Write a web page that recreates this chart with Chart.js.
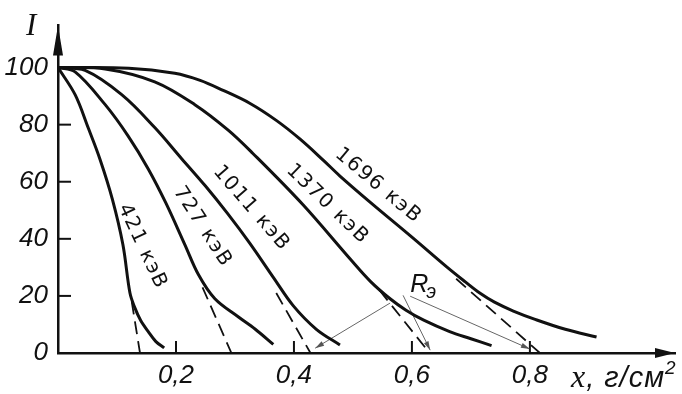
<!DOCTYPE html>
<html>
<head>
<meta charset="utf-8">
<script src="https://cdn.jsdelivr.net/npm/chart.js@4.4.0/dist/chart.umd.min.js"></script>
<style>
  html, body { margin: 0; padding: 0; background: #fff; }
</style>
</head>
<body>
<canvas id="chart" width="682" height="394"></canvas>
<script>
// энергии электронов (подписи кривых)
const energies = ['421 кэВ', '727 кэВ', '1011 кэВ', '1370 кэВ', '1696 кэВ'];

// толщина x, г/см2 и интенсивность I для каждой кривой
const x421 = [0, 0.029, 0.051, 0.071, 0.092, 0.11, 0.122, 0.13, 0.14, 0.153, 0.166, 0.18];
const i421 = [100, 90.5, 79, 68, 54, 38, 21, 16, 11.5, 7.5, 4, 1.8];

const x727 = [0, 0.029, 0.08, 0.119, 0.153, 0.183, 0.215, 0.238, 0.266, 0.306, 0.334, 0.365];
const i727 = [100, 98.5, 87, 76, 64.5, 52.5, 38, 27.5, 19, 12.6, 8.4, 3];

const x1011 = [0, 0.046, 0.108, 0.164, 0.21, 0.25, 0.287, 0.325, 0.365, 0.399, 0.438, 0.478];
const i1011 = [100, 99, 90.5, 79, 68, 58.5, 49, 38.5, 26.5, 16.5, 8.3, 2.8];

const x1370 = [0, 0.08, 0.164, 0.232, 0.289, 0.33, 0.415, 0.495, 0.53, 0.563, 0.59, 0.62, 0.664, 0.7, 0.735];
const i1370 = [100, 99.5, 95, 87, 78, 70, 52, 33, 25, 19, 15, 11.5, 7.5, 5, 2.6];

const x1696 = [0, 0.12, 0.198, 0.241, 0.28, 0.325, 0.37, 0.41, 0.45, 0.478, 0.53, 0.6, 0.66, 0.69, 0.715, 0.74, 0.772, 0.81, 0.86, 0.913];
const i1696 = [100, 99.8, 98, 95.5, 92, 87.5, 81.5, 75, 67.5, 62, 52.7, 40.6, 30, 25, 21, 17.8, 14.7, 11.7, 8.3, 5.6];

// касательные (штрих) - экстраполяция к I = 0
const tangentX = [[0.125, 0.139], [0.245, 0.294], [0.37, 0.428], [0.545, 0.63], [0.675, 0.817]];
const tangentI = [[18, 0], [23, 0], [21, 0], [22, 0], [26, 0]];

// выноски к R_э
const rLineX = [[0.563, 0.436], [0.585, 0.631], [0.597, 0.8]];
const rLineI = [[17.5, 1.7], [20.2, 1], [19.9, 1.4]];

const xTicks = [0.2, 0.4, 0.6, 0.8];
const yTicks = [0, 20, 40, 60, 80, 100];

const curvesX = [x421, x727, x1011, x1370, x1696];
const curvesI = [i421, i727, i1011, i1370, i1696];

// где стоят подписи (в единицах графика) и угол наклона
const labelPlace = [[0.143, 37.3, 65], [0.245, 44.2, 57], [0.328, 50.7, 49], [0.457, 52.1, 44], [0.543, 58.6, 40]];

const INK = '#111';
const SANS = '"Liberation Sans", Arial, sans-serif';
const SERIF = '"Liberation Serif", "DejaVu Serif", serif';
const tickFont = { family: SANS, size: 26, style: 'italic' };

function toPoints(xs, ys) {
    return xs.map((x, k) => ({ x: x, y: ys[k] }));
}

const datasets = [];
curvesX.forEach((xs, k) => {
    datasets.push({
        label: energies[k],
        data: toPoints(xs, curvesI[k]),
        showLine: true,
        borderColor: INK,
        borderWidth: 3,
        pointRadius: 0,
        tension: 0.35
    });
});
tangentX.forEach((xs, k) => {
    datasets.push({
        label: 'tangent',
        data: toPoints(xs, tangentI[k]),
        showLine: true,
        borderColor: INK,
        borderWidth: 1.8,
        borderDash: [13, 7],
        pointRadius: 0
    });
});
const rStart = datasets.length;
rLineX.forEach((xs, k) => {
    datasets.push({
        label: 'R',
        data: toPoints(xs, rLineI[k]),
        showLine: true,
        borderColor: '#666',
        borderWidth: 1,
        pointRadius: 0
    });
});

// засечки внутрь, стрелки осей, подписи
const drawingPlugin = {
    id: 'drawing',
    afterDatasetsDraw(chart) {
        const ctx = chart.ctx;
        const xs = chart.scales.x, ys = chart.scales.y;
        const area = chart.chartArea;
        const x0 = xs.getPixelForValue(0), y0 = ys.getPixelForValue(0);
        ctx.save();
        ctx.strokeStyle = INK;
        ctx.fillStyle = INK;
        ctx.lineWidth = 2;

        // засечки
        xTicks.forEach(v => {
            const p = xs.getPixelForValue(v);
            ctx.beginPath(); ctx.moveTo(p, y0); ctx.lineTo(p, y0 - 12); ctx.stroke();
        });
        yTicks.slice(1).forEach(v => {
            const p = ys.getPixelForValue(v);
            ctx.beginPath(); ctx.moveTo(x0, p); ctx.lineTo(x0 + 13, p); ctx.stroke();
        });

        // стрелки осей
        ctx.beginPath();
        ctx.moveTo(x0, area.top); ctx.lineTo(x0 - 5, area.top + 30); ctx.lineTo(x0 + 5, area.top + 30);
        ctx.closePath(); ctx.fill();
        ctx.beginPath();
        ctx.moveTo(area.right, y0); ctx.lineTo(area.right - 20, y0 - 5); ctx.lineTo(area.right - 20, y0 + 5);
        ctx.closePath(); ctx.fill();

        // стрелки на выносках R
        ctx.fillStyle = '#555';
        for (let k = 0; k < rLineX.length; k++) {
            const pts = chart.getDatasetMeta(rStart + k).data;
            const a = pts[0], b = pts[pts.length - 1];
            const ang = Math.atan2(b.y - a.y, b.x - a.x);
            ctx.save();
            ctx.translate(b.x, b.y); ctx.rotate(ang);
            ctx.beginPath(); ctx.moveTo(0, 0); ctx.lineTo(-9, -2.5); ctx.lineTo(-9, 2.5); ctx.closePath(); ctx.fill();
            ctx.restore();
        }

        // подписи кривых
        ctx.fillStyle = INK;
        ctx.font = '20px "DejaVu Sans", sans-serif';
        ctx.letterSpacing = '1.5px';
        ctx.textAlign = 'center';
        ctx.textBaseline = 'middle';
        labelPlace.forEach((p, k) => {
            ctx.save();
            ctx.translate(xs.getPixelForValue(p[0]), ys.getPixelForValue(p[1]));
            ctx.rotate(p[2] * Math.PI / 180);
            ctx.fillText(energies[k], 0, 0);
            ctx.restore();
        });
        ctx.letterSpacing = '0px';

        // R_э
        ctx.textAlign = 'left';
        ctx.textBaseline = 'alphabetic';
        ctx.font = 'italic 25px ' + SANS;
        const rx = xs.getPixelForValue(0.597), ry = ys.getPixelForValue(21.5);
        ctx.fillText('R', rx, ry);
        ctx.font = 'italic 20px ' + SANS;
        ctx.fillText('э', rx + 16, ry + 6);

        // названия осей
        ctx.font = 'italic 31px ' + SERIF;
        ctx.fillText('I', 26, 35);
        let tx = 571;
        const by = 387;
        ctx.font = 'italic 32px ' + SERIF;
        ctx.fillText('x', tx, by);
        tx += ctx.measureText('x').width + 1;
        ctx.font = 'italic 29px ' + SANS;
        ctx.letterSpacing = '1px';
        ctx.fillText(', г/см', tx, by);
        tx += ctx.measureText(', г/см').width;
        ctx.font = 'italic 19px ' + SANS;
        ctx.fillText('2', tx, by - 13);
        ctx.restore();
    }
};

new Chart(document.getElementById('chart'), {
    type: 'scatter',
    data: { datasets: datasets },
    options: {
        responsive: false,
        animation: false,
        devicePixelRatio: 1,
        layout: { padding: { left: 0, top: 18, right: 7, bottom: 0 } },
        plugins: { legend: { display: false }, tooltip: { enabled: false } },
        scales: {
            x: {
                type: 'linear',
                min: 0,
                max: 1.046,
                afterBuildTicks: s => { s.ticks = xTicks.map(v => ({ value: v })); },
                afterFit: s => { s.height = 41; },
                grid: { display: false, drawTicks: false },
                border: { display: true, color: INK, width: 2.5 },
                ticks: {
                    color: INK,
                    font: tickFont,
                    padding: 7,
                    maxRotation: 0,
                    callback: v => v.toFixed(1).replace('.', ',')
                }
            },
            y: {
                type: 'linear',
                min: 0,
                max: 114.7,
                afterBuildTicks: s => { s.ticks = yTicks.map(v => ({ value: v })); },
                afterFit: s => { s.width = 58; },
                grid: { display: false, drawTicks: false },
                border: { display: true, color: INK, width: 2.5 },
                ticks: {
                    color: INK,
                    font: tickFont,
                    padding: 10,
                    callback: v => String(v)
                }
            }
        }
    },
    plugins: [drawingPlugin]
});
</script>
</body>
</html>
